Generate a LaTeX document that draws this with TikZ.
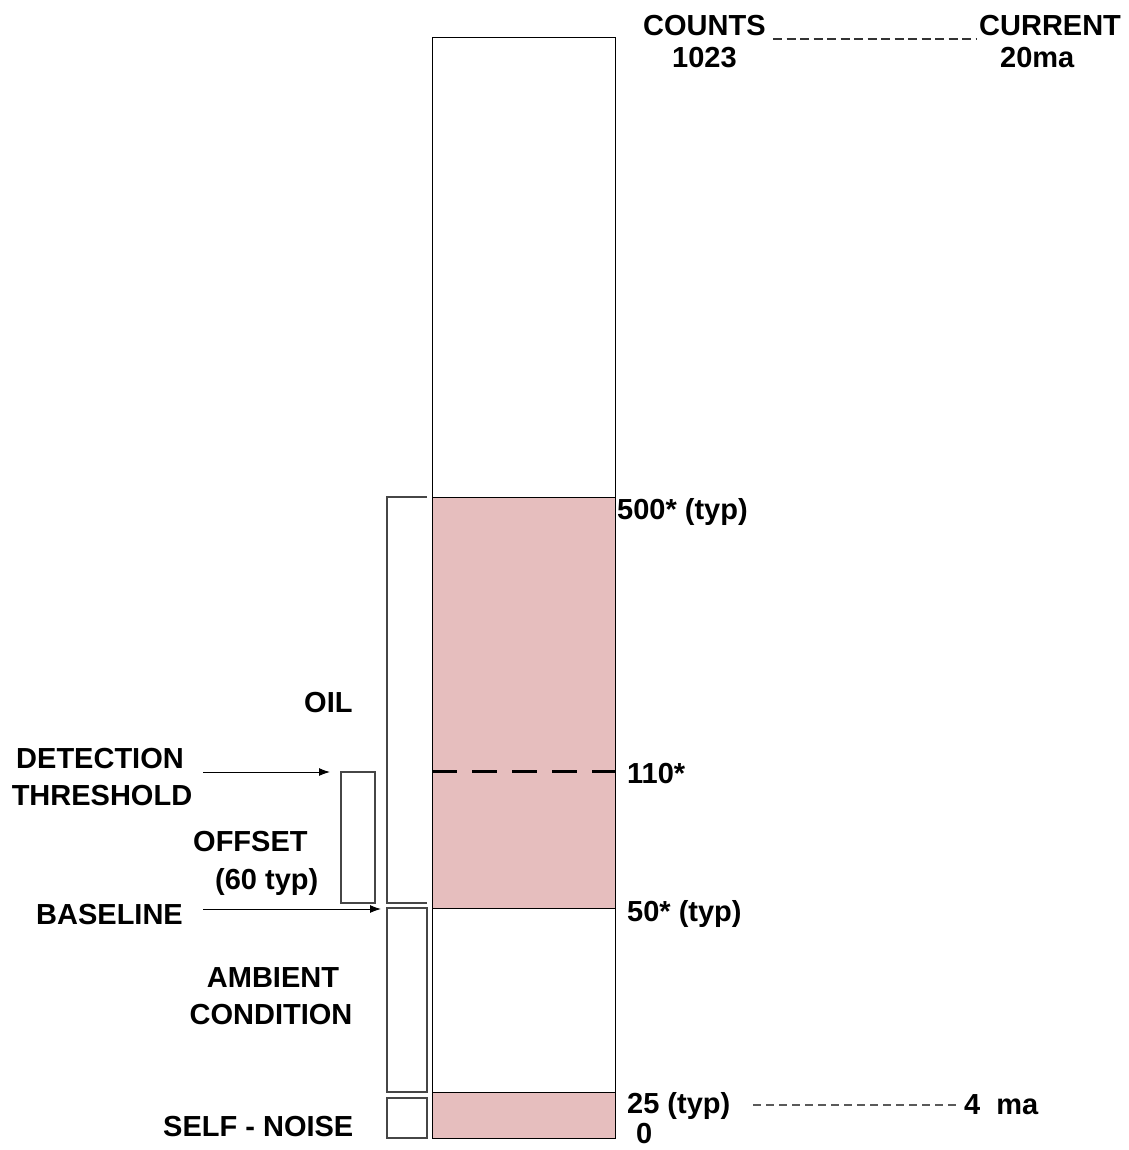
\documentclass[tikz,border=0pt]{standalone}
\usepackage{fontspec}
\setmainfont{Liberation Sans}
\usetikzlibrary{arrows.meta}
\definecolor{pinkfill}{RGB}{230,190,190}
\definecolor{boxgray}{RGB}{70,70,70}
\definecolor{dashgray}{RGB}{90,90,90}
\begin{document}
\begin{tikzpicture}[x=1pt,y=-1pt,
  lbl/.style={font=\fontsize{29}{34}\selectfont\bfseries, inner sep=0pt, anchor=base west},
  lblc/.style={font=\fontsize{29}{34}\selectfont\bfseries, inner sep=0pt, anchor=base},
  barline/.style={draw=black, line width=1pt},
  sidebox/.style={draw=boxgray, line width=1.3pt},
  pointer/.style={draw=black, line width=1pt, -{Latex[length=11pt,width=8pt]}},
  thindash/.style={draw=dashgray, line width=1.2pt, dash pattern=on 8pt off 5pt}]
\useasboundingbox (0,0) rectangle (1128,1150);
% main bar
\fill[pinkfill] (432,497) rectangle (615,908);
\fill[pinkfill] (432,1092) rectangle (615,1138);
\draw[barline] (432,38) rectangle (615,1138);
\draw[barline] (432,497) -- (615,497);
\draw[barline] (432,908) -- (615,908);
\draw[barline] (432,1092) -- (615,1092);
\draw[line width=3pt, dash pattern=on 25pt off 15pt] (432,771) -- (615,771);
% side boxes
\draw[sidebox] (427,497) -- (387,497) -- (387,903) -- (427,903);
\draw[sidebox] (387,908) rectangle (427,1092);
\draw[sidebox] (387,1098) rectangle (427,1138);
\draw[sidebox] (341,772) rectangle (375,903);
% top labels
\node[lbl] (counts) at (643,36) {COUNTS};
\node[lbl] (c1023) at (672,68) {1023};
\node[lbl] (current) at (979,36) {CURRENT};
\node[lbl] (ma20) at (1000,68) {20ma};
\coordinate (topdashA) at (773,39);
\coordinate (topdashB) at (977,39);
\draw[draw=black!80, line width=1.2pt, dash pattern=on 9pt off 4.5pt] (topdashA) -- (topdashB);
% right labels
\node[lbl] (l500) at (617,519) {500* (typ)};
\node[lbl] (l110) at (627,783) {110*};
\node[lbl] (l50) at (627,921) {50* (typ)};
\node[lbl] (l25) at (627,1113) {25 (typ)};
\node[lbl] (l0) at (636,1143) {0};
\node[lbl] (l4ma) at (964,1114) {4\hspace{16pt}ma};
\coordinate (botdashA) at (753,1105);
\coordinate (botdashB) at (958,1105);
\draw[thindash] (botdashA) -- (botdashB);
% left labels
\node[lbl] (oil) at (304,712) {OIL};
\node[lblc] (det) at (100,768) {DETECTION};
\node[lblc] (thr) at (102,805) {THRESHOLD};
\node[lbl] (off) at (193,851) {OFFSET};
\node[lbl] (off2) at (215,889) {(60 typ)};
\node[lbl] (base) at (36,924) {BASELINE};
\node[lblc] (amb) at (273,987) {AMBIENT};
\node[lblc] (cond) at (271,1024) {CONDITION};
\node[lbl] (self) at (163,1136) {SELF - NOISE};
% arrows
\coordinate (detA) at (203,772);
\coordinate (detB) at (330,772);
\coordinate (baseA) at (203,909);
\coordinate (baseB) at (381,909);
\draw[pointer] (detA) -- (detB);
\draw[pointer] (baseA) -- (baseB);
\end{tikzpicture}
\end{document}
